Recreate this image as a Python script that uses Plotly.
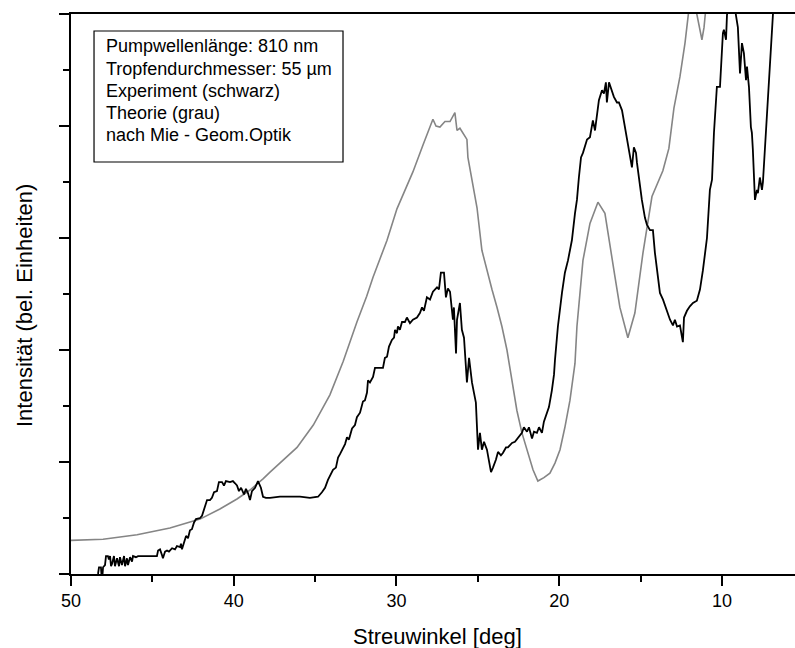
import plotly.graph_objects as go

# ---------------- data ----------------
# Experiment (black): scattering angle [deg] and intensity (arb. units)
exp_angle = [48.34, 48.28, 48.16, 48.13, 48.06, 48.03, 47.91, 47.85, 47.73, 47.67,
             47.60, 47.54, 47.48, 47.36, 47.30, 47.17, 47.05, 46.99, 46.87, 46.74,
             46.68, 46.56, 46.50, 46.37, 46.25, 46.19, 46.01, 45.88, 45.15, 44.72,
             44.65, 44.53, 44.41, 44.35, 44.22, 44.10, 43.98, 43.79, 43.61, 43.49,
             43.30, 43.24, 43.18, 43.06, 42.93, 42.81, 42.69, 42.57, 42.44, 42.32,
             42.07, 41.95, 41.83, 41.71, 41.64, 41.46, 41.34, 41.21, 41.03, 40.91,
             40.72, 40.60, 40.48, 40.23, 40.05, 39.92, 39.80, 39.68, 39.55, 39.37,
             39.25, 39.12, 39.00, 38.88, 38.69, 38.51, 38.33, 38.20, 38.02, 37.77,
             37.16, 36.54, 35.93, 35.32, 34.82, 34.58, 34.39, 34.21, 34.09, 33.90,
             33.72, 33.59, 33.47, 33.29, 33.16, 33.04, 32.92, 32.73, 32.55, 32.43,
             32.24, 32.06, 31.94, 31.81, 31.75, 31.63, 31.44, 31.32, 31.01, 30.83,
             30.71, 30.58, 30.46, 30.28, 30.15, 30.09, 29.97, 29.91, 29.79, 29.66,
             29.48, 29.36, 29.17, 28.99, 28.74, 28.56, 28.43, 28.31, 28.13, 27.94,
             27.76, 27.51, 27.39, 27.27, 27.08, 26.96, 26.84, 26.71, 26.53, 26.47,
             26.34, 26.28, 26.10, 25.98, 25.85, 25.67, 25.54, 25.36, 25.24, 25.12,
             24.99, 24.87, 24.75, 24.62, 24.44, 24.32, 24.19, 24.07, 23.89, 23.76,
             23.58, 23.46, 23.27, 23.15, 22.90, 22.72, 22.53, 22.29, 22.17, 21.98,
             21.86, 21.67, 21.55, 21.37, 21.24, 21.06, 20.94, 20.75, 20.63, 20.45,
             20.32, 20.26, 20.08, 19.83, 19.65, 19.46, 19.22, 19.03, 18.91, 18.79,
             18.66, 18.54, 18.42, 18.29, 18.11, 17.99, 17.93, 17.80, 17.68, 17.56,
             17.37, 17.25, 17.13, 17.07, 16.94, 16.76, 16.64, 16.45, 16.33, 16.14,
             15.96, 15.84, 15.71, 15.53, 15.41, 15.28, 15.22, 15.10, 14.92, 14.73,
             14.61, 14.42, 14.24, 14.12, 13.99, 13.81, 13.62, 13.38, 13.19, 13.01,
             12.89, 12.76, 12.58, 12.40, 12.33, 12.15, 11.97, 11.78, 11.54, 11.35,
             11.17, 10.92, 10.74, 10.61, 10.49, 10.31, 10.12, 9.94, 9.88, 9.75,
             9.69, 9.51, 9.32, 9.14, 9.02, 8.89, 8.77, 8.65, 8.52, 8.46,
             8.34, 8.22, 8.16, 8.10, 7.97, 7.85, 7.79, 7.67, 7.54, 7.48,
             7.30, 7.17, 6.99, 6.87, 6.74]
exp_intensity = [0.00, 0.06, 0.06, 0.00, 0.00, 0.06, 0.08, 0.16, 0.16, 0.13,
                 0.16, 0.07, 0.09, 0.16, 0.07, 0.14, 0.07, 0.15, 0.08, 0.16,
                 0.07, 0.14, 0.08, 0.15, 0.11, 0.16, 0.15, 0.16, 0.16, 0.16,
                 0.21, 0.22, 0.17, 0.14, 0.20, 0.21, 0.20, 0.23, 0.22, 0.25,
                 0.24, 0.27, 0.22, 0.29, 0.34, 0.32, 0.39, 0.40, 0.46, 0.49,
                 0.50, 0.52, 0.57, 0.62, 0.66, 0.66, 0.68, 0.73, 0.74, 0.82,
                 0.82, 0.79, 0.83, 0.82, 0.83, 0.81, 0.79, 0.74, 0.77, 0.71,
                 0.76, 0.72, 0.66, 0.74, 0.77, 0.83, 0.77, 0.69, 0.68, 0.68,
                 0.69, 0.69, 0.69, 0.68, 0.69, 0.73, 0.77, 0.84, 0.87, 0.93,
                 0.95, 1.04, 1.07, 1.13, 1.16, 1.22, 1.20, 1.30, 1.33, 1.40,
                 1.44, 1.54, 1.55, 1.62, 1.73, 1.71, 1.76, 1.84, 1.84, 1.84,
                 1.93, 1.94, 2.03, 2.09, 2.11, 2.18, 2.15, 2.21, 2.18, 2.25,
                 2.25, 2.29, 2.24, 2.27, 2.29, 2.33, 2.38, 2.35, 2.47, 2.45,
                 2.52, 2.56, 2.54, 2.69, 2.69, 2.47, 2.55, 2.52, 2.27, 2.38,
                 1.97, 2.27, 2.42, 2.18, 2.11, 1.71, 1.93, 1.71, 1.62, 1.53,
                 1.11, 1.26, 1.11, 1.18, 1.11, 1.02, 0.91, 0.95, 1.02, 1.09,
                 1.06, 1.08, 1.13, 1.13, 1.17, 1.18, 1.22, 1.26, 1.31, 1.27,
                 1.31, 1.21, 1.27, 1.26, 1.31, 1.26, 1.36, 1.44, 1.49, 1.64,
                 1.78, 1.91, 2.21, 2.51, 2.69, 2.80, 2.98, 3.22, 3.34, 3.54,
                 3.72, 3.76, 3.81, 3.88, 3.90, 3.99, 4.05, 3.96, 4.08, 4.23,
                 4.32, 4.29, 4.39, 4.21, 4.39, 4.30, 4.26, 4.21, 4.21, 4.14,
                 3.99, 3.90, 3.81, 3.63, 3.81, 3.76, 3.67, 3.52, 3.34, 3.18,
                 3.12, 3.07, 3.07, 2.87, 2.71, 2.51, 2.45, 2.34, 2.27, 2.22,
                 2.27, 2.21, 2.22, 2.07, 2.29, 2.35, 2.39, 2.42, 2.44, 2.54,
                 2.71, 3.00, 3.43, 3.52, 3.94, 4.35, 4.35, 4.83, 4.86, 4.77,
                 4.99, 5.17, 5.21, 4.99, 4.88, 4.47, 4.74, 4.65, 4.41, 4.53,
                 4.35, 3.99, 3.94, 3.79, 3.34, 3.43, 3.40, 3.54, 3.43, 3.50,
                 3.94, 4.29, 4.68, 4.99, 5.30]

# Theory (grey): Mie - geometrical optics
theo_angle = [50.00, 48.03, 45.94, 43.92, 42.07, 40.85, 39.80, 39.00, 38.20, 37.77,
              36.11, 35.11, 34.09, 33.27, 32.43, 31.83, 31.44, 30.58, 29.97, 29.17,
              28.99, 28.37, 27.94, 27.76, 27.57, 27.33, 27.02, 26.71, 26.41, 26.28,
              26.10, 25.67, 25.61, 25.36, 25.05, 24.75, 24.44, 24.13, 23.82, 23.52,
              23.21, 22.90, 22.60, 22.29, 21.98, 21.61, 21.31, 20.94, 20.57, 20.26,
              19.95, 19.65, 19.34, 19.03, 18.91, 18.54, 18.11, 17.62, 17.19, 16.88,
              16.57, 16.27, 15.78, 15.35, 14.85, 14.30, 13.63, 13.26, 12.95, 12.58,
              12.27, 12.03, 11.84, 11.60, 11.41, 11.23, 11.10, 11.04, 10.86]
theo_intensity = [0.30, 0.31, 0.35, 0.41, 0.49, 0.58, 0.67, 0.75, 0.85, 0.91,
                  1.13, 1.33, 1.60, 1.90, 2.25, 2.48, 2.65, 2.98, 3.26, 3.52,
                  3.59, 3.83, 3.99, 4.06, 4.00, 3.99, 4.04, 4.04, 4.12, 3.96,
                  3.98, 3.88, 3.72, 3.52, 3.27, 2.89, 2.71, 2.54, 2.38, 2.21,
                  2.00, 1.73, 1.46, 1.26, 1.11, 0.93, 0.83, 0.86, 0.90, 0.99,
                  1.11, 1.31, 1.55, 1.88, 2.21, 2.80, 3.13, 3.32, 3.22, 2.92,
                  2.65, 2.38, 2.11, 2.33, 2.87, 3.37, 3.60, 3.80, 4.16, 4.44,
                  4.74, 5.04, 5.20, 5.04, 4.90, 4.77, 4.88, 4.99, 5.25]

x_tick_vals = [50, 40, 30, 20, 10]
x_tick_text = ["50", "40", "30", "20", "10"]
x_minor_vals = [45, 35, 25, 15]
y_major_vals = [0, 1, 2, 3, 4, 5]
y_minor_vals = [0.5, 1.5, 2.5, 3.5, 4.5]

info_lines = ["Pumpwellenlänge: 810 nm",
              "Tropfendurchmesser: 55 µm",
              "Experiment (schwarz)",
              "Theorie (grau)",
              "nach Mie - Geom.Optik"]

# ---------------- figure ----------------
FONT = "Liberation Sans, Arial, Helvetica, sans-serif"

fig = go.Figure()
fig.add_trace(go.Scatter(x=theo_angle, y=theo_intensity, mode="lines",
                         line=dict(color="#858585", width=1.6), showlegend=False))
fig.add_trace(go.Scatter(x=exp_angle, y=exp_intensity, mode="lines",
                         line=dict(color="#000000", width=1.8), showlegend=False))

fig.update_layout(
    width=795, height=648,
    margin=dict(l=71, r=0, t=14, b=74),
    paper_bgcolor="white", plot_bgcolor="white",
    font=dict(family=FONT, color="black", size=18),
    showlegend=False,
)

fig.update_xaxes(
    range=[50, 5.51], autorange=False,
    tickmode="array", tickvals=x_tick_vals, ticktext=x_tick_text,
    ticks="outside", ticklen=10, tickwidth=1.5, tickcolor="black",
    tickfont=dict(size=18, family=FONT, color="black"),
    minor=dict(tickvals=x_minor_vals, ticks="outside", ticklen=6,
               tickwidth=1.5, tickcolor="black", showgrid=False),
    showline=True, linecolor="black", linewidth=1.5, mirror=True,
    showgrid=False, zeroline=False,
)
fig.update_yaxes(
    range=[0, 5], autorange=False,
    tickmode="array", tickvals=y_major_vals, showticklabels=False,
    ticks="outside", ticklen=10, tickwidth=1.5, tickcolor="black",
    minor=dict(tickvals=y_minor_vals, ticks="outside", ticklen=6,
               tickwidth=1.5, tickcolor="black", showgrid=False),
    showline=True, linecolor="black", linewidth=1.5,
    showgrid=False, zeroline=False,
)

# axis titles
fig.add_annotation(text="Streuwinkel [deg]", xref="paper", yref="paper",
                   x=0.506, y=-0.111, xanchor="center", yanchor="middle",
                   showarrow=False, font=dict(size=22, family=FONT, color="black"))
fig.add_annotation(text="Intensität (bel. Einheiten)", xref="paper", yref="paper",
                   x=-0.0635, y=0.4786, xanchor="center", yanchor="middle",
                   textangle=-90, showarrow=False,
                   font=dict(size=22, family=FONT, color="black"))

# info box
fig.add_shape(type="rect", xref="paper", yref="paper",
              x0=0.0318, x1=0.3757, y0=0.7357, y1=0.9696,
              line=dict(color="black", width=1.2), fillcolor="white")
box_line_y = [0.9420, 0.9025, 0.8632, 0.8240, 0.7847]
for txt, yy in zip(info_lines, box_line_y):
    fig.add_annotation(text=txt, xref="paper", yref="paper",
                       x=0.0456, y=yy, xanchor="left", yanchor="middle",
                       showarrow=False, align="left",
                       font=dict(size=18, family=FONT, color="black"))

fig.write_html("out.html")
